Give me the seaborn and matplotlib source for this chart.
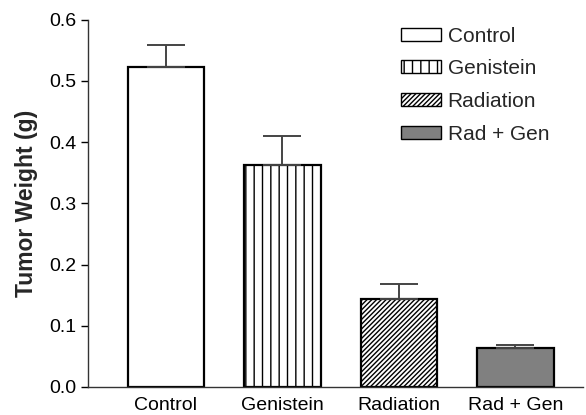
import pandas as pd
import matplotlib
matplotlib.use("Agg")
import matplotlib.pyplot as plt
import seaborn as sns
from matplotlib.patches import Patch

groups = ["Control", "Genistein", "Radiation", "Rad + Gen"]
weights = [0.522, 0.362, 0.143, 0.064]
errors = [0.037, 0.048, 0.026, 0.005]
hatches = ["", "||", "///////", ""]
colors = ["white", "white", "white", "#808080"]

sns.set_theme(style="ticks")
plt.rcParams["font.family"] = ["Liberation Sans", "DejaVu Sans"]
plt.rcParams["hatch.linewidth"] = 1.0

df = pd.DataFrame({"group": groups, "weight": weights})

fig = plt.figure(figsize=(5.86, 4.15), dpi=100)
ax = fig.add_axes([0.150, 0.0675, 0.845, 0.885])

sns.barplot(data=df, x="group", y="weight", hue="group", palette=colors,
            width=0.66, edgecolor="black", linewidth=1.6, legend=False, ax=ax)

for bar, h in zip(ax.patches, hatches):
    bar.set_hatch(h)

ax.errorbar(range(len(groups)), weights, yerr=[[0] * len(errors), errors],
            fmt="none", ecolor="#444444", elinewidth=1.4, capsize=14, capthick=1.4)

ax.set_xlim(-0.67, 3.58)
ax.set_ylim(0, 0.6)
ax.set_yticks([0.0, 0.1, 0.2, 0.3, 0.4, 0.5, 0.6])
ax.set_yticklabels([f"{v:.1f}" for v in ax.get_yticks()])
ax.set_xlabel("")
ax.set_ylabel("Tumor Weight (g)", fontsize=16.5, fontweight="bold", labelpad=8)
ax.tick_params(axis="y", labelsize=14, length=5, width=1, pad=3, colors="black")
ax.tick_params(axis="x", labelsize=14, length=0, pad=7, colors="black")
sns.despine(ax=ax)
for s in ["left", "bottom"]:
    ax.spines[s].set_linewidth(1.0)
    ax.spines[s].set_color("#333333")

handles = [Patch(facecolor=c, edgecolor="black", hatch=h, linewidth=1.0)
           for c, h in zip(colors, hatches)]
fig.legend(handles, groups, loc="upper left", bbox_to_anchor=(0.684, 0.936),
           frameon=False, fontsize=15, handlelength=1.92, handleheight=0.58,
           handletextpad=0.33, labelspacing=0.66, borderpad=0, borderaxespad=0)

fig.savefig("out.png", dpi=100)
